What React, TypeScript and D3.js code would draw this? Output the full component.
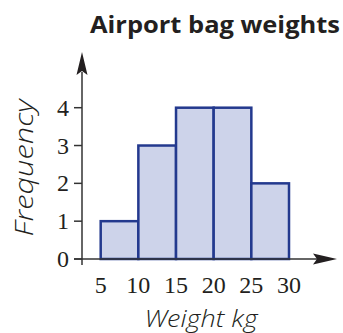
import React from "react";
import * as d3 from "d3";

const binStarts = [5, 10, 15, 20, 25];
const binWidth = 5;
const frequencies = [1, 3, 4, 4, 2];
const xTicks = [5, 10, 15, 20, 25, 30];
const yTicks = [0, 1, 2, 3, 4];

export default function App() {
  const W = 343, H = 333;
  const x = d3.scaleLinear().domain([5, 30]).range([100.7, 289]);
  const y = d3.scaleLinear().domain([0, 4]).range([259, 107.7]);
  const axisX = 82;
  const serif = "Liberation Serif, Times New Roman, serif";
  const sans = "Open Sans, Noto Sans, sans-serif";
  return (
    <svg width={W} height={H} style={{ position: "absolute", left: 0, top: 0, background: "#fff" }}>
      <text x={340} y={33} textAnchor="end" fontFamily={sans} fontWeight={700} fontSize={23.5} fill="#231f20" textLength={250} lengthAdjust="spacingAndGlyphs">Airport bag weights</text>
      {binStarts.map((s, i) => (
        <rect key={i} x={x(s)} y={y(frequencies[i])} width={x(s + binWidth) - x(s)} height={y(0) - y(frequencies[i])}
          fill="#cdd3ea" stroke="#23398e" strokeWidth={2.5} />
      ))}
      {/* y axis */}
      <line x1={axisX} x2={axisX} y1={72} y2={265} stroke="#333" strokeWidth={1.5} />
      <path d={`M${axisX},52 L${axisX - 5.5},75 L${axisX},71 L${axisX + 5.5},75 Z`} fill="#231f20" />
      {/* x axis */}
      <line x1={74} x2={318} y1={y(0)} y2={y(0)} stroke="#333" strokeWidth={1.5} />
      <path d={`M337,${y(0)} L313,${y(0) - 5.5} L317,${y(0)} L313,${y(0) + 5.5} Z`} fill="#231f20" />
      {yTicks.map(t => (
        <g key={t}>
          <line x1={74} x2={axisX} y1={y(t)} y2={y(t)} stroke="#333" strokeWidth={1.5} />
          <text x={69} y={y(t) + 8} textAnchor="end" fontFamily={serif} fontSize={24} fill="#231f20">{t}</text>
        </g>
      ))}
      {xTicks.map(t => (
        <text key={t} x={x(t)} y={293} textAnchor="middle" fontFamily={serif} fontSize={24} fill="#231f20">{t}</text>
      ))}
      <text x={201} y={327} textAnchor="middle" fontFamily={sans} fontStyle="italic" fontWeight={300} fontSize={24} fill="#231f20" textLength={113} lengthAdjust="spacingAndGlyphs">Weight kg</text>
      <text transform="translate(33,168) rotate(-90)" textAnchor="middle" fontFamily={sans} fontStyle="italic" fontWeight={300} fontSize={26} fill="#231f20" textLength={137} lengthAdjust="spacingAndGlyphs">Frequency</text>
    </svg>
  );
}
